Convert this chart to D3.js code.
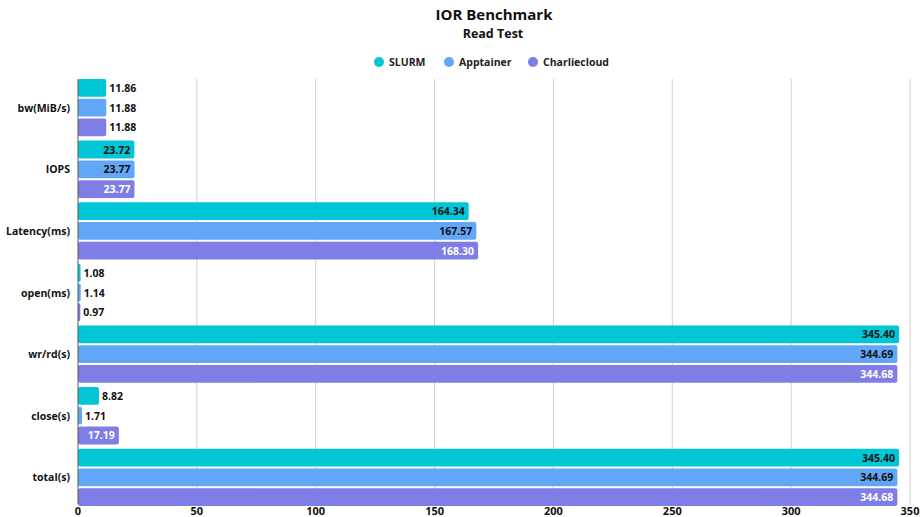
<!DOCTYPE html>
<html>
<head>
<meta charset="utf-8">
<script src="https://cdn.jsdelivr.net/npm/d3@7"></script>
<style>
  body { margin: 0; background: #fff; }
  svg text { font-family: "Open Sans", "Noto Sans", sans-serif; }
</style>
</head>
<body>
<svg id="chart" width="922" height="517"></svg>
<script>
const categories = ['bw(MiB/s)', 'IOPS', 'Latency(ms)', 'open(ms)', 'wr/rd(s)', 'close(s)', 'total(s)'];
const seriesNames = ['SLURM', 'Apptainer', 'Charliecloud'];
const slurm = [11.86, 23.72, 164.34, 1.08, 345.40, 8.82, 345.40];
const apptainer = [11.88, 23.77, 167.57, 1.14, 344.69, 1.71, 344.69];
const charliecloud = [11.88, 23.77, 168.30, 0.97, 344.68, 17.19, 344.68];
const xTicks = [0, 50, 100, 150, 200, 250, 300, 350];
const colors = ['#00c6d6', '#62a6f8', '#7f7ee6'];
const insideText = ['#111', '#111', '#fff'];

const svg = d3.select('#chart');
const margin = { left: 78, right: 12, top: 79, bottom: 13 };

const x = d3.scaleLinear().domain([0, 350]).range([margin.left, 910]);
const y0 = d3.scaleBand().domain(categories).range([margin.top, 506]).paddingInner(0.07).paddingOuter(0.0);
const y1 = d3.scaleBand().domain(seriesNames).range([0, y0.bandwidth()]).paddingInner(0.1);

const rows = [];
categories.forEach((c, i) => {
    [slurm, apptainer, charliecloud].forEach((s, j) => {
        rows.push({ cat: c, series: seriesNames[j], idx: j, value: s[i] });
    });
});

// title
svg.append('text').attr('x', 494).attr('y', 20).attr('text-anchor', 'middle')
    .style('font-size', '15px').style('font-weight', 700).attr('fill', '#111').text('IOR Benchmark');
svg.append('text').attr('x', 493).attr('y', 38).attr('text-anchor', 'middle')
    .style('font-size', '12.5px').style('font-weight', 700).attr('fill', '#111').text('Read Test');

// legend
const legendX = [379, 449, 533];
const legend = svg.append('g');
seriesNames.forEach((n, i) => {
    legend.append('circle').attr('cx', legendX[i]).attr('cy', 62).attr('r', 5).attr('fill', colors[i]);
    legend.append('text').attr('x', legendX[i] + 10).attr('y', 66)
        .style('font-size', '10.5px').style('font-weight', 700).attr('fill', '#222').text(n);
});

// grid
svg.append('g').selectAll('line')
    .data(xTicks.slice(1))
    .enter()
    .append('line')
    .attr('x1', d => x(d)).attr('x2', d => x(d))
    .attr('y1', margin.top).attr('y2', 504)
    .attr('stroke', '#d0d0d0').attr('stroke-width', 1);

// x axis labels
svg.append('g').selectAll('text')
    .data(xTicks)
    .enter()
    .append('text')
    .attr('x', d => x(d)).attr('y', 515)
    .attr('text-anchor', 'middle')
    .style('font-size', '11px').style('font-weight', 700).attr('fill', '#111')
    .text(d => d);

// bars
svg.append('g').selectAll('rect')
    .data(rows)
    .enter()
    .append('rect')
    .attr('x', x(0))
    .attr('y', d => y0(d.cat) + y1(d.series))
    .attr('width', d => x(d.value) - x(0))
    .attr('height', y1.bandwidth())
    .attr('rx', 2)
    .attr('fill', d => colors[d.idx]);

// value labels
svg.append('g').selectAll('text')
    .data(rows)
    .enter()
    .append('text')
    .each(function (d) {
        const w = x(d.value) - x(0);
        const inside = w > 38;
        d3.select(this)
            .attr('x', inside ? x(d.value) - 4 : x(d.value) + 3)
            .attr('text-anchor', inside ? 'end' : 'start')
            .attr('fill', inside ? insideText[d.idx] : '#111');
    })
    .attr('y', d => y0(d.cat) + y1(d.series) + y1.bandwidth() / 2 + 4)
    .style('font-size', '10.5px').style('font-weight', 700)
    .text(d => d.value.toFixed(2));

// category labels
svg.append('g').selectAll('text')
    .data(categories)
    .enter()
    .append('text')
    .attr('x', 70)
    .attr('y', d => y0(d) + y0.bandwidth() / 2 + 4)
    .attr('text-anchor', 'end')
    .style('font-size', '10.5px').style('font-weight', 700).attr('fill', '#111')
    .text(d => d);

// left axis line
svg.append('line')
    .attr('x1', x(0)).attr('x2', x(0))
    .attr('y1', margin.top).attr('y2', 504)
    .attr('stroke', '#555').attr('stroke-width', 1);
</script>
</body>
</html>
